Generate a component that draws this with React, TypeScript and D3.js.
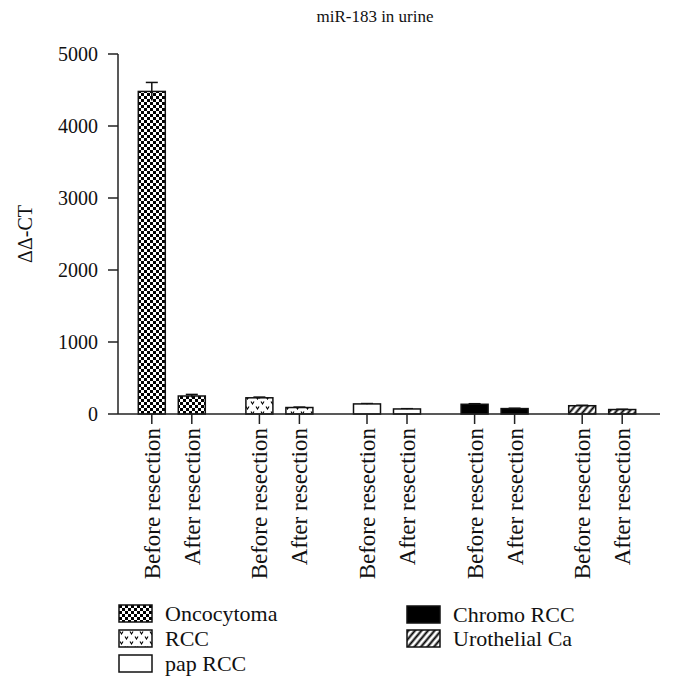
import React from "react";
import * as d3 from "d3";

const groups = ["Oncocytoma", "RCC", "pap RCC", "Chromo RCC", "Urothelial Ca"];
const conditions = ["Before resection", "After resection"];
const beforeValues = [4480, 225, 140, 135, 115];
const afterValues = [250, 90, 70, 75, 62];
const beforeErrors = [125, 10, 5, 8, 6];
const afterErrors = [22, 6, 4, 5, 4];
const yTicks = [0, 1000, 2000, 3000, 4000, 5000];
const fills = ["url(#checker)", "url(#rccpat)", "#ffffff", "#000000", "url(#hatch)"];

const W = 673;
const H = 690;
const FONT = "'Liberation Serif', 'DejaVu Serif', serif";

export default function App() {
  const y = d3.scaleLinear().domain([0, 5000]).range([414, 54]);
  const x0 = d3.scaleBand<string>().domain(groups).range([118, 656]).padding(0);
  const x1 = d3
    .scaleBand<string>()
    .domain(conditions)
    .range([0, x0.bandwidth()])
    .paddingInner(0.325)
    .paddingOuter(0.5075);

  const bars = groups.flatMap((g, gi) =>
    conditions.map((c, ci) => ({
      g,
      gi,
      c,
      v: ci === 0 ? beforeValues[gi] : afterValues[gi],
      e: ci === 0 ? beforeErrors[gi] : afterErrors[gi],
      x: (x0(g) as number) + (x1(c) as number),
    }))
  );
  const bw = x1.bandwidth();

  const legendLeft = [0, 1, 2];
  const legendRight = [3, 4];

  return (
    <svg
      width={W}
      height={H}
      style={{ position: "absolute", left: 0, top: 0, background: "#fff" }}
      fontFamily={FONT}
    >
      <defs>
        <pattern id="checker" width={6} height={6} patternUnits="userSpaceOnUse">
          <rect width={6} height={6} fill="#fff" />
          <rect x={0} y={0} width={3} height={3} fill="#000" />
          <rect x={3} y={3} width={3} height={3} fill="#000" />
        </pattern>
        <pattern id="rccpat" width={10} height={10} patternUnits="userSpaceOnUse">
          <rect width={10} height={10} fill="#fff" />
          <path d="M1,1.5 L2.5,4 L4,1.5" fill="none" stroke="#000" strokeWidth={1.1} />
          <path d="M6,6.5 L7.5,9 L9,6.5" fill="none" stroke="#000" strokeWidth={1.1} />
        </pattern>
        <pattern
          id="hatch"
          width={5}
          height={5}
          patternUnits="userSpaceOnUse"
          patternTransform="rotate(40)"
        >
          <rect width={5} height={5} fill="#fff" />
          <line x1={1.5} y1={0} x2={1.5} y2={5} stroke="#000" strokeWidth={2} />
        </pattern>
      </defs>

      {/* Title */}
      <text x={375} y={22} textAnchor="middle" fontSize={17} fill="#111">
        miR-183 in urine
      </text>

      {/* Y axis */}
      <line x1={118} x2={118} y1={y(5000)} y2={y(0)} stroke="#222" strokeWidth={1.5} />
      {yTicks.map((t) => (
        <g key={t}>
          <line x1={108} x2={118} y1={y(t)} y2={y(t)} stroke="#222" strokeWidth={1.5} />
          <text x={98} y={y(t)} dy="0.35em" textAnchor="end" fontSize={20} fill="#111">
            {t}
          </text>
        </g>
      ))}
      <text
        transform={`translate(32, ${y(2500)}) rotate(-90)`}
        textAnchor="middle"
        fontSize={20}
        fill="#111"
      >
        ΔΔ-CT
      </text>

      {/* Bars */}
      {bars.map((b) => (
        <g key={b.g + b.c}>
          <line
            x1={b.x + bw / 2}
            x2={b.x + bw / 2}
            y1={y(b.v - b.e)}
            y2={y(b.v + b.e)}
            stroke="#111"
            strokeWidth={1.5}
          />
          <line
            x1={b.x + bw / 2 - 6}
            x2={b.x + bw / 2 + 6}
            y1={y(b.v + b.e)}
            y2={y(b.v + b.e)}
            stroke="#111"
            strokeWidth={1.5}
          />
          <rect
            x={b.x}
            y={y(b.v)}
            width={bw}
            height={y(0) - y(b.v)}
            fill={fills[b.gi]}
            stroke="#111"
            strokeWidth={1.5}
          />
          <line
            x1={b.x + bw / 2}
            x2={b.x + bw / 2}
            y1={y(b.v - b.e)}
            y2={y(b.v)}
            stroke="#111"
            strokeWidth={1.5}
          />
        </g>
      ))}

      {/* X axis */}
      <line x1={118} x2={660} y1={y(0)} y2={y(0)} stroke="#222" strokeWidth={1.5} />
      {bars.map((b) => (
        <g key={"t" + b.g + b.c}>
          <line
            x1={b.x + bw / 2}
            x2={b.x + bw / 2}
            y1={y(0)}
            y2={y(0) + 10}
            stroke="#222"
            strokeWidth={1.5}
          />
          <text
            transform={`translate(${b.x + bw / 2}, ${y(0) + 14}) rotate(-90)`}
            textAnchor="end"
            dy="0.35em"
            fontSize={23}
            fill="#111"
          >
            {b.c}
          </text>
        </g>
      ))}

      {/* Legend */}
      {legendLeft.map((gi, i) => (
        <g key={"ll" + gi} transform={`translate(119, ${605 + i * 25})`}>
          <rect width={33} height={17} fill={fills[gi]} stroke="#111" strokeWidth={1.5} />
          <text x={46} y={8.5} dy="0.35em" fontSize={22} fill="#111">
            {groups[gi]}
          </text>
        </g>
      ))}
      {legendRight.map((gi, i) => (
        <g key={"lr" + gi} transform={`translate(407, ${606 + i * 24})`}>
          <rect width={33} height={17} fill={fills[gi]} stroke="#111" strokeWidth={1.5} />
          <text x={46} y={8.5} dy="0.35em" fontSize={22} fill="#111">
            {groups[gi]}
          </text>
        </g>
      ))}
    </svg>
  );
}
